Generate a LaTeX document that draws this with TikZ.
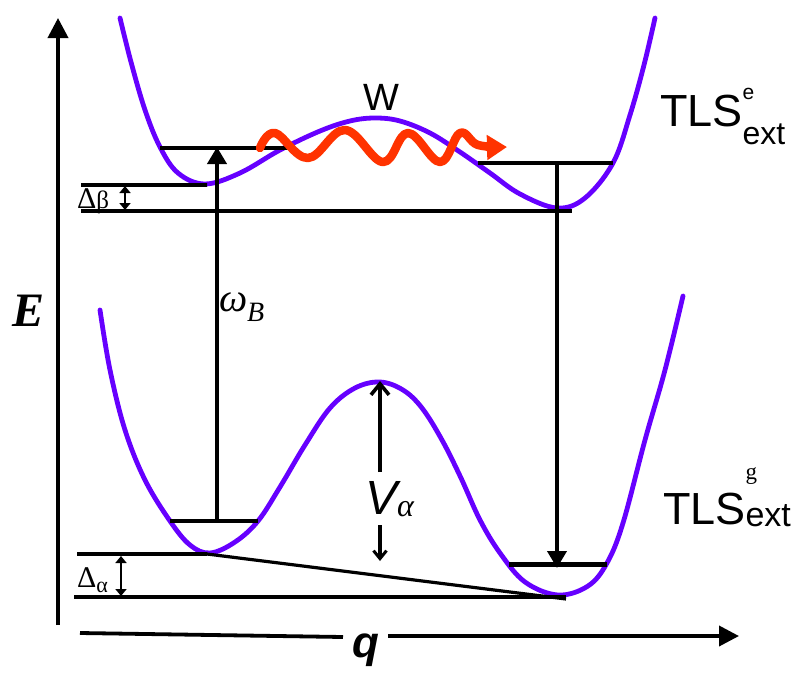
\documentclass[tikz,border=0pt]{standalone}
\usepackage{fontspec}
\setmainfont{Liberation Serif}
\setsansfont{Liberation Sans}
\usetikzlibrary{arrows.meta}
\definecolor{potcol}{RGB}{102,0,255}
\definecolor{wavecol}{RGB}{255,51,0}
\begin{document}
\begin{tikzpicture}[x=1pt,y=-1pt,
  potential/.style={draw=potcol,line width=4.8pt,line join=round,line cap=round},
  level/.style={line width=3.8pt},
  dotline/.style={line width=3.4pt,postaction={draw,line width=4.6pt,dash pattern=on 2pt off 0.8pt}},
  bigarrow/.style={line width=3.8pt,-{Triangle[length=17pt,width=19pt]}},
  axis/.style={line width=3.8pt,-{Triangle[length=20pt,width=20pt]}},
  smalldbl/.style={line width=2.8pt,{Triangle[length=7pt,width=11pt]}-{Triangle[length=7pt,width=11pt]}},
  wavy/.style={draw=wavecol,line width=8.5pt,line cap=round,line join=round,-{Triangle[length=20pt,width=24pt]}},
  txt/.style={inner sep=0pt,outer sep=0pt}
]
\useasboundingbox (0,0) rectangle (793,673);

% axes
\coordinate (Ebot) at (58,625);
\coordinate (Etop) at (58,18);
\draw[axis] (Ebot) -- (Etop);
\node[txt] (E) at (29,311) {\fontsize{48}{48}\selectfont\bfseries\itshape E};

\node[txt] (q) at (366,650) {\fontsize{44}{44}\selectfont\sffamily\bfseries\itshape q};
\coordinate (qleft) at (80,633);
\coordinate (qgapl) at (343,637);
\coordinate (qgapr) at (388,636);
\coordinate (qtip) at (739,636);
\draw[line width=3.8pt] (qleft) -- (qgapl);
\draw[axis] (qgapr) -- (qtip);

% potential curves
\draw[potential] plot[smooth,tension=0.6] coordinates {
 (120,18) (131,62) (145,110) (160,147) (178,173) (205,184) (240,173) (280,150)
 (320,131) (350,121) (375,118) (400,121) (430,133) (460,152) (490,173) (520,194)
 (557,208) (585,198) (613,163) (630,115) (644,65) (655,18)};
\draw[potential] plot[smooth,tension=0.6] coordinates {
 (100,310) (110,370) (125,430) (145,480) (170,521) (190,545) (210,553) (235,542)
 (258,521) (280,487) (305,445) (330,408) (355,388) (380,382) (403,390) (422,408)
 (442,440) (461,478) (480,520) (500,553) (525,582) (558,595) (588,586) (607,563)
 (623,523) (645,440) (665,370) (683,296)};

% dotted reference lines
\coordinate (db1) at (81,185);  \coordinate (db2) at (207,185);
\coordinate (db3) at (81,211);  \coordinate (db4) at (572,211);
\coordinate (da1) at (77,554);  \coordinate (da2) at (207,554);
\coordinate (da3) at (74,597);  \coordinate (da4) at (566,597);
\draw[dotline] (db1) -- (db2);
\draw[dotline] (db3) -- (db4);
\draw[dotline] (da1) -- (da2);
\draw[dotline] (da3) -- (da4);
\draw[line width=3.2pt] (da2) -- (566,599);

% small double arrows and labels
\coordinate (dbt) at (125,186); \coordinate (dbb) at (125,210);
\draw[smalldbl] (dbt) -- (dbb);
\node[txt,anchor=base west] (Db) at (77,208) {\fontsize{30}{30}\selectfont Δ\fontsize{25}{25}\selectfont β};
\coordinate (dat) at (121,556); \coordinate (dab) at (121,596);
\draw[smalldbl] (dat) -- (dab);
\node[txt,anchor=base west] (Da) at (77,587) {\fontsize{30}{30}\selectfont Δ\raisebox{-5pt}{\fontsize{22}{22}\selectfont α}};

% energy levels
\coordinate (ul1) at (160,148); \coordinate (ul2) at (288,148);
\coordinate (ur1) at (478,163); \coordinate (ur2) at (613,163);
\coordinate (ll1) at (170,521); \coordinate (ll2) at (258,521);
\coordinate (lr1) at (509,564); \coordinate (lr2) at (607,564);
\draw[level] (ul1) -- (ul2);
\draw[level] (ur1) -- (ur2);
\draw[level] (ll1) -- (ll2);
\draw[line width=5pt] (lr1) -- (lr2);

% transitions
\coordinate (wbot) at (217,521); \coordinate (wtop) at (217,147);
\draw[bigarrow] (wbot) -- (wtop);
\node[txt,anchor=base west] (omega) at (219,311) {\fontsize{40}{40}\selectfont\itshape ω\raisebox{-10pt}{\fontsize{28}{28}\selectfont B}};
\coordinate (rtop) at (557,163); \coordinate (rbot) at (557,568);
\draw[bigarrow] (rtop) -- (rbot);

% barrier
\coordinate (vlow) at (380,472); \coordinate (vpeak) at (380,381);
\draw[line width=3.8pt,-{Straight Barb[length=11pt,width=18pt,line width=3.6pt]}] (vlow) -- (vpeak);
\node[txt,anchor=base west] (V) at (365,514) {\fontsize{48}{48}\selectfont\sffamily\itshape V\rmfamily\fontsize{32}{32}\selectfont\raisebox{-2pt}{α}};
\coordinate (vd1) at (380,525); \coordinate (vd2) at (380,561);
\draw[line width=3.8pt,-{Straight Barb[length=8pt,width=13pt,line width=3pt]}] (vd1) -- (vd2);

% tunnelling wave
\node[txt,anchor=base] (W) at (381,110) {\fontsize{38}{38}\selectfont\sffamily W};
\draw[wavy] plot[smooth,tension=0.65] coordinates {
 (260,148) (275,133) (308,158) (345,130) (383,162) (408,133) (440,162) (460,133) (478,145) (507,147)};

% labels
\node[txt,anchor=base west] (TLSe) at (660,126) {\sffamily\fontsize{45}{45}\selectfont TLS\rlap{\raisebox{27pt}{\fontsize{21}{21}\selectfont e}}\raisebox{-18pt}{\fontsize{32}{32}\selectfont ext}};
\node[txt,anchor=base west] (TLSg) at (663,524) {\sffamily\fontsize{45}{45}\selectfont TLS\rlap{\raisebox{45pt}{\rmfamily\fontsize{23}{23}\selectfont g}}\raisebox{-2pt}{\fontsize{34}{34}\selectfont ext}};
\end{tikzpicture}
\end{document}
